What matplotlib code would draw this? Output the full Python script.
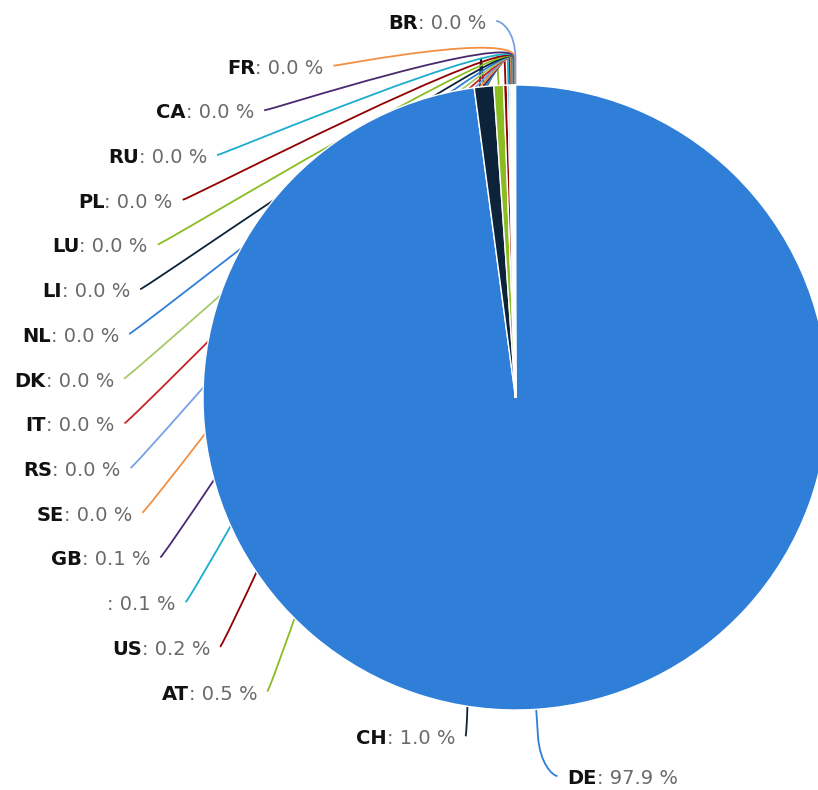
import numpy as np
import matplotlib
matplotlib.use("Agg")
import matplotlib.pyplot as plt
from matplotlib.path import Path
from matplotlib.patches import PathPatch

plt.rcParams["font.family"] = ["DejaVu Sans"]

W, H = 818, 790

countries = ["DE", "CH", "AT", "US", "", "GB", "SE", "RS", "IT", "DK",
             "NL", "LI", "LU", "PL", "RU", "CA", "FR", "BR"]
shares = [97.9, 1.0, 0.5, 0.2, 0.1, 0.08, 0.04, 0.03, 0.03, 0.02,
          0.02, 0.02, 0.02, 0.01, 0.01, 0.01, 0.01, 0.01]
palette = ["#2f7ed8", "#0d233a", "#8bbc21", "#910000", "#1aadce",
           "#492970", "#f28f43", "#77a1e5", "#c42525", "#a6c96a"]

# pie geometry (pixels, y measured from the bottom)
CX, CY, R = 515.5, H - 397.5, 312.5
BREAK = 27          # connector break outside the pie
FS = 14

fig = plt.figure(figsize=(W / 100, H / 100), dpi=100)
ax = fig.add_axes([0, 0, 1, 1])
colors = [palette[i % len(palette)] for i in range(len(shares))]
wedges, _ = ax.pie(shares, colors=colors, startangle=90, counterclock=False,
                   center=(CX, CY), radius=R, frame=True,
                   wedgeprops=dict(edgecolor="white", linewidth=1.0, zorder=2))
ax.set_xlim(0, W)
ax.set_ylim(0, H)
ax.set_aspect("equal")
ax.axis("off")

total = sum(shares)
renderer = fig.canvas.get_renderer()


def label_pos(k, name):
    # left column: BR at the top, CH at the bottom
    if name == "DE":
        return CX + 52, H - 777, "left"
    y_px = 22 + 44.7 * k
    dy = y_px - (H - CY)
    b = 376.5 if dy < 0 else 385
    off = 402 * np.sqrt(max(0.0, 1 - (dy / b) ** 2))
    if name == "CH":
        off = 60
    return CX - off, H - y_px, "right"


def draw_label(x, y, name, pct, side):
    val = f": {pct:.1f} %"
    base = y - 7
    if side == "right":
        t = ax.text(x, base, val, ha="right", va="baseline", fontsize=FS, color="#6a6a6a")
        bb = t.get_window_extent(renderer)
        ax.text(bb.x0, base, name, ha="right", va="baseline", fontsize=FS,
                fontweight="bold", color="#111111")
    else:
        t = ax.text(x, base, name, ha="left", va="baseline", fontsize=FS,
                    fontweight="bold", color="#111111")
        bb = t.get_window_extent(renderer)
        ax.text(bb.x1, base, val, ha="left", va="baseline", fontsize=FS, color="#6a6a6a")


left_order = list(range(len(countries) - 1, 0, -1))
slots = {idx: k for k, idx in enumerate(left_order)}
slots[0] = None

for i, (w, name) in enumerate(zip(wedges, countries)):
    mid = np.deg2rad((w.theta1 + w.theta2) / 2)
    d = np.array([np.cos(mid), np.sin(mid)])
    land = np.array([CX, CY]) + R * d
    brk = np.array([CX, CY]) + (R + BREAK) * d
    ctrl2 = 2 * brk - land
    lx, ly, side = label_pos(slots[i], name)
    draw_label(lx, ly, name, shares[i] / total * 100, side)
    sgn = 1 if side == "right" else -1
    start = np.array([lx + sgn * 10, ly + 1])
    ctrl1 = start + np.array([sgn * 5, 0])
    verts = [start, ctrl1, ctrl2, brk, land]
    codes = [Path.MOVETO, Path.CURVE4, Path.CURVE4, Path.CURVE4, Path.LINETO]
    ax.add_patch(PathPatch(Path(verts, codes), facecolor="none",
                           edgecolor=colors[i], linewidth=1.3, zorder=1))

fig.savefig("out.png", dpi=100, facecolor="white")
